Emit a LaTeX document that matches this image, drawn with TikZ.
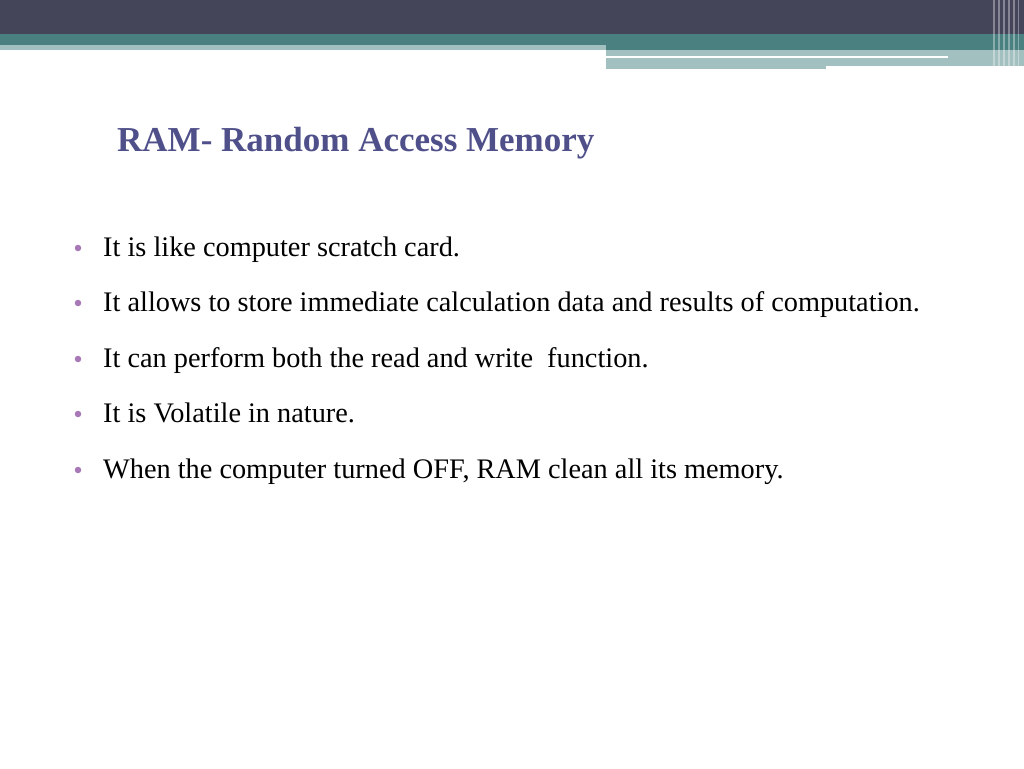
\documentclass[tikz,border=0pt]{standalone}
\usepackage{fontspec}
\setmainfont{Liberation Serif}
\definecolor{bandDark}{HTML}{45455A}
\definecolor{bandTeal}{HTML}{4A8080}
\definecolor{bandLight}{HTML}{A3C0C0}
\definecolor{titleBlue}{HTML}{4F4F8A}
\definecolor{dotPink}{HTML}{A778B5}
\tikzset{
    point/.style={anchor=base west, font=\fontsize{28.3}{32}\selectfont, inner sep=0pt},
    dot/.style={circle, fill=dotPink, inner sep=0pt, minimum size=6.5pt},
}
\begin{document}
\begin{tikzpicture}[x=1pt, y=-1pt]
    \useasboundingbox (0,0) rectangle (1024,768);
    % header bands
    \fill[bandDark] (0,0) rectangle (1024,34);
    \fill[bandTeal] (0,34) rectangle (1024,45);
    \fill[bandLight] (0,45) rectangle (606,50);
    \fill[bandTeal] (606,45) rectangle (1024,50);
    \fill[bandLight] (606,50) rectangle (1024,66);
    \fill[bandLight] (606,66) rectangle (826,69);
    \fill[white] (606,56) rectangle (948,58);
    \foreach \x/\w in {993/2,998/1.5,1003/2,1008/1.5,1013/2,1018/1}
        \fill[white, opacity=0.35] (\x,0) rectangle ++(\w,69);
    % title
    \node[anchor=base west, inner sep=0pt, text=titleBlue,
        font=\fontsize{35}{40}\selectfont\bfseries] (title) at (117,151) {RAM- Random Access Memory};
    % points
    \foreach \i/\y/\t in {1/256/{It is like computer scratch card.},
        2/311/{It allows to store immediate calculation data and results of computation.},
        3/367/{It can perform both the read and write\ \ function.},
        4/422/{It is Volatile in nature.},
        5/478/{When the computer turned OFF, RAM clean all its memory.}} {
        \node[point] (p\i) at (103,\y) {\t};
        \node[dot] (d\i) at (78,\y-8) {};
    }
\end{tikzpicture}
\end{document}
